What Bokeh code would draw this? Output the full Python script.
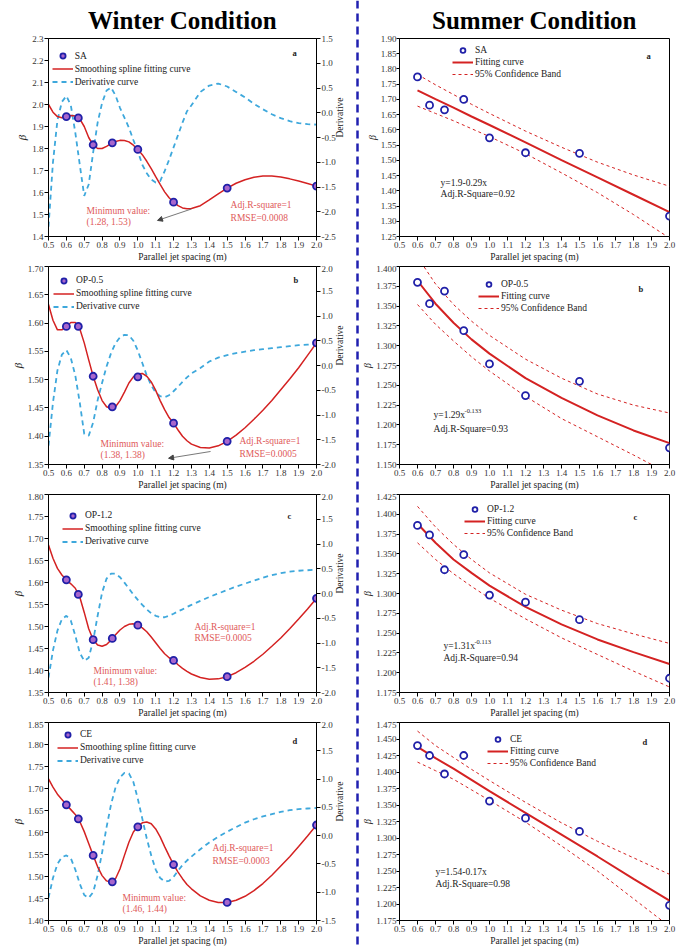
import math
from bokeh.plotting import figure
from bokeh.models import (Range1d, LinearAxis, Legend, LegendItem, Label, Arrow,
                          NormalHead, Span, FixedTicker, PrintfTickFormatter)
from bokeh.layouts import row, column
from bokeh.embed import file_html
from bokeh.resources import INLINE

FONT = "Liberation Serif"
FH = 198

# ---------------- data ----------------
x_pts = [0.6, 0.667, 0.75, 0.857, 1.0, 1.2, 1.5, 2.0]
x_curve = [0.5, 0.525, 0.55, 0.575, 0.6, 0.625, 0.65, 0.675, 0.7, 0.725,
           0.75, 0.775, 0.8, 0.825, 0.85, 0.875, 0.9, 0.925, 0.95, 0.975,
           1.0, 1.025, 1.05, 1.075, 1.1, 1.125, 1.15, 1.175, 1.2, 1.225,
           1.25, 1.275, 1.3, 1.35, 1.4, 1.45, 1.5, 1.55, 1.6, 1.65,
           1.7, 1.75, 1.8, 1.85, 1.9, 1.95, 2.0]
x_fit = [0.6, 0.7, 0.8, 0.9, 1.0, 1.2, 1.4, 1.6, 1.8, 2.0]
x_ticks = [0.5, 0.6, 0.7, 0.8, 0.9, 1.0, 1.1, 1.2, 1.3, 1.4, 1.5, 1.6, 1.7, 1.8, 1.9, 2.0]

# Winter condition: measured beta, smoothing spline, derivative
w_pts_sa = [1.945, 1.939, 1.817, 1.826, 1.796, 1.556, 1.620, 1.629]
w_pts_op05 = [1.594, 1.594, 1.506, 1.452, 1.505, 1.423, 1.391, 1.565]
w_pts_op12 = [1.606, 1.573, 1.470, 1.473, 1.503, 1.423, 1.386, 1.564]
w_pts_ce = [1.663, 1.631, 1.548, 1.488, 1.613, 1.527, 1.441, 1.617]

spline_sa = [2.0, 1.965, 1.945, 1.94, 1.945, 1.95, 1.948, 1.935, 1.9, 1.85,
             1.815, 1.80, 1.80, 1.81, 1.822, 1.832, 1.837, 1.836, 1.83, 1.815,
             1.796, 1.772, 1.742, 1.708, 1.672, 1.637, 1.603, 1.576, 1.556, 1.54,
             1.53, 1.526, 1.527, 1.54, 1.566, 1.594, 1.62, 1.642, 1.658, 1.669,
             1.675, 1.675, 1.67, 1.662, 1.652, 1.641, 1.629]
deriv_sa = [-2.3, -1.0, -0.15, 0.22, 0.34, 0.15, -0.4, -1.05, -1.68, -1.45,
            -0.8, -0.2, 0.2, 0.45, 0.51, 0.35, 0.1, -0.1, -0.3, -0.55,
            -0.78, -1.05, -1.22, -1.35, -1.41, -1.38, -1.18, -0.95, -0.7, -0.45,
            -0.2, 0.03, 0.15, 0.42, 0.55, 0.59, 0.53, 0.42, 0.31, 0.18,
            0.07, -0.03, -0.11, -0.17, -0.21, -0.23, -0.24]
spline_op05 = [1.633, 1.605, 1.588, 1.588, 1.594, 1.601, 1.601, 1.59, 1.565, 1.535,
               1.506, 1.482, 1.463, 1.452, 1.449, 1.452, 1.463, 1.478, 1.494, 1.505,
               1.51, 1.511, 1.506, 1.496, 1.481, 1.463, 1.447, 1.433, 1.423, 1.411,
               1.40, 1.392, 1.386, 1.38, 1.379, 1.383, 1.391, 1.402, 1.415, 1.43,
               1.446, 1.463, 1.482, 1.501, 1.521, 1.543, 1.565]
deriv_op05 = [-1.62, -0.75, -0.1, 0.22, 0.31, 0.15, -0.2, -0.75, -1.38, -1.42,
              -1.15, -0.7, -0.35, -0.02, 0.25, 0.45, 0.57, 0.62, 0.61, 0.5,
              0.3, 0.05, -0.2, -0.4, -0.55, -0.62, -0.64, -0.6, -0.52, -0.43,
              -0.33, -0.24, -0.16, -0.05, 0.08, 0.16, 0.21, 0.25, 0.28, 0.31,
              0.33, 0.35, 0.37, 0.39, 0.41, 0.42, 0.43]
spline_op12 = [1.685, 1.655, 1.632, 1.617, 1.606, 1.597, 1.587, 1.567, 1.532, 1.495,
               1.47, 1.458, 1.455, 1.459, 1.469, 1.481, 1.492, 1.5, 1.505, 1.506,
               1.503, 1.497, 1.488, 1.476, 1.463, 1.45, 1.438, 1.429, 1.423, 1.413,
               1.405, 1.398, 1.392, 1.384, 1.38, 1.381, 1.386, 1.395, 1.407, 1.421,
               1.437, 1.455, 1.474, 1.495, 1.517, 1.54, 1.564]
deriv_op12 = [-1.7, -1.15, -0.75, -0.52, -0.45, -0.55, -0.85, -1.2, -1.36, -1.3,
              -0.95, -0.45, 0.02, 0.3, 0.4, 0.4, 0.33, 0.22, 0.1, -0.02,
              -0.13, -0.23, -0.32, -0.4, -0.45, -0.48, -0.48, -0.45, -0.41, -0.36,
              -0.32, -0.27, -0.23, -0.15, -0.07, 0.0, 0.07, 0.14, 0.2, 0.26,
              0.32, 0.37, 0.41, 0.44, 0.46, 0.47, 0.48]
spline_ce = [1.722, 1.703, 1.687, 1.675, 1.663, 1.652, 1.641, 1.625, 1.602, 1.575,
             1.548, 1.522, 1.502, 1.49, 1.487, 1.495, 1.517, 1.548, 1.578, 1.601,
             1.614, 1.622, 1.624, 1.62, 1.608, 1.59, 1.568, 1.547, 1.527, 1.51,
             1.495, 1.482, 1.472, 1.456, 1.446, 1.441, 1.441, 1.446, 1.455, 1.468,
             1.484, 1.503, 1.524, 1.545, 1.568, 1.592, 1.617]
deriv_ce = [-1.1, -0.75, -0.5, -0.38, -0.35, -0.4, -0.6, -0.85, -1.05, -1.1,
            -1.0, -0.7, -0.3, 0.15, 0.55, 0.85, 1.03, 1.11, 1.1, 0.95,
            0.65, 0.3, -0.05, -0.35, -0.6, -0.75, -0.81, -0.8, -0.73, -0.62,
            -0.52, -0.44, -0.37, -0.24, -0.12, -0.02, 0.07, 0.15, 0.23, 0.29,
            0.34, 0.38, 0.42, 0.45, 0.47, 0.48, 0.49]

# Summer condition: measured beta, fitted curve, 95% confidence band
s_pts_sa = [1.774, 1.681, 1.666, 1.700, 1.574, 1.525, 1.523, 1.317]
s_pts_op05 = [1.380, 1.353, 1.369, 1.319, 1.277, 1.237, 1.255, 1.171]
s_pts_op12 = [1.386, 1.374, 1.330, 1.349, 1.298, 1.289, 1.267, 1.193]
s_pts_ce = [1.440, 1.425, 1.397, 1.425, 1.356, 1.330, 1.310, 1.198]

fit_sa = [1.730, 1.701, 1.673, 1.644, 1.616, 1.559, 1.501, 1.444, 1.387, 1.330]
up_sa = [1.782, 1.748, 1.716, 1.684, 1.654, 1.596, 1.543, 1.494, 1.452, 1.415]
lo_sa = [1.678, 1.654, 1.630, 1.604, 1.578, 1.522, 1.459, 1.394, 1.322, 1.245]
fit_op05 = [1.382, 1.353, 1.329, 1.308, 1.290, 1.259, 1.234, 1.212, 1.193, 1.177]
up_op05 = [1.412, 1.378, 1.352, 1.331, 1.313, 1.283, 1.259, 1.239, 1.225, 1.215]
lo_op05 = [1.352, 1.327, 1.306, 1.286, 1.268, 1.236, 1.208, 1.185, 1.162, 1.138]
fit_op12 = [1.388, 1.364, 1.343, 1.326, 1.310, 1.283, 1.261, 1.242, 1.226, 1.211]
up_op12 = [1.410, 1.384, 1.362, 1.343, 1.326, 1.299, 1.279, 1.262, 1.249, 1.237]
lo_op12 = [1.364, 1.343, 1.325, 1.309, 1.294, 1.268, 1.244, 1.223, 1.202, 1.182]
fit_ce = [1.438, 1.421, 1.405, 1.388, 1.371, 1.338, 1.305, 1.272, 1.238, 1.205]
up_ce = [1.462, 1.440, 1.422, 1.404, 1.387, 1.354, 1.323, 1.295, 1.270, 1.245]
lo_ce = [1.415, 1.402, 1.389, 1.373, 1.357, 1.324, 1.288, 1.250, 1.208, 1.166]

# tick values
wa_yticks = [1.4, 1.5, 1.6, 1.7, 1.8, 1.9, 2.0, 2.1, 2.2, 2.3]
wb_yticks = [1.35, 1.40, 1.45, 1.50, 1.55, 1.60, 1.65, 1.70]
wc_yticks = [1.35, 1.40, 1.45, 1.50, 1.55, 1.60, 1.65, 1.70, 1.75, 1.80]
wd_yticks = [1.40, 1.45, 1.50, 1.55, 1.60, 1.65, 1.70, 1.75, 1.80, 1.85]
wa_dticks = [-2.5, -2.0, -1.5, -1.0, -0.5, 0.0, 0.5, 1.0, 1.5]
wb_dticks = [-2.0, -1.5, -1.0, -0.5, 0.0, 0.5, 1.0, 1.5, 2.0]
wc_dticks = [-2.0, -1.5, -1.0, -0.5, 0.0, 0.5, 1.0, 1.5, 2.0]
wd_dticks = [-1.5, -1.0, -0.5, 0.0, 0.5, 1.0, 1.5, 2.0]
sa_yticks = [1.25, 1.30, 1.35, 1.40, 1.45, 1.50, 1.55, 1.60, 1.65, 1.70, 1.75, 1.80, 1.85, 1.90]
sb_yticks = [1.150, 1.175, 1.200, 1.225, 1.250, 1.275, 1.300, 1.325, 1.350, 1.375, 1.400]
sc_yticks = [1.175, 1.200, 1.225, 1.250, 1.275, 1.300, 1.325, 1.350, 1.375, 1.400, 1.425]
sd_yticks = [1.175, 1.200, 1.225, 1.250, 1.275, 1.300, 1.325, 1.350, 1.375, 1.400, 1.425, 1.450, 1.475]

# ---------------- style ----------------
RED = "#d42222"
ANN_RED = "#e05a5a"
DBLUE = "#3ea8dc"
PT_LINE = "#2020a8"
PT_FILL = "#a866cc"
DIV_BLUE = "#2020b0"


def style_axis(ax, ticks, fmt, label="", italic=False, lsize="9.5px", tick_out=4,
               lab_stand=1, ax_stand=1):
    ax.ticker = FixedTicker(ticks=ticks, minor_ticks=[])
    ax.formatter = PrintfTickFormatter(format=fmt)
    ax.axis_label = label
    ax.major_label_text_font = FONT
    ax.major_label_text_font_size = "9px"
    ax.major_label_text_color = "#333333"
    ax.axis_label_text_font = FONT
    ax.axis_label_text_font_size = lsize
    ax.axis_label_text_font_style = "italic" if italic else "normal"
    ax.axis_label_text_color = "#222222"
    ax.major_tick_in = 0
    ax.major_tick_out = tick_out
    ax.minor_tick_in = 0
    ax.minor_tick_out = 0
    ax.major_label_standoff = lab_stand
    ax.axis_label_standoff = ax_stand
    ax.axis_line_color = "black"
    ax.major_tick_line_color = "black"


def base_fig(width, height, top, left, right, xr, yr):
    p = figure(width=width, height=height, x_range=Range1d(*xr), y_range=Range1d(*yr),
               toolbar_location=None, output_backend="svg",
               min_border_top=top, min_border_bottom=29,
               min_border_left=left, min_border_right=right)
    p.xgrid.visible = False
    p.ygrid.visible = False
    p.outline_line_color = "black"
    p.outline_line_alpha = 1.0
    p.outline_line_width = 1
    p.background_fill_color = "white"
    p.border_fill_color = "white"
    return p


def add_legend(p, items, dx, dy, pitch, gw, fs="9.5px"):
    n = len(items)
    lh = n * pitch
    top = dy - pitch / 2.0
    leg = Legend(items=items, location=(dx, FH - top - lh), orientation="vertical",
                 padding=0, margin=0, spacing=0, glyph_width=gw, glyph_height=pitch,
                 label_height=pitch, label_standoff=2, label_text_font=FONT,
                 label_text_font_size=fs, label_text_color="#222222",
                 border_line_alpha=0, background_fill_alpha=0)
    p.add_layout(leg)


def txt(p, x, y, text, color="#222222", size="9.5px", style="normal", xo=0, yo=0):
    p.add_layout(Label(x=x, y=y, text=text, text_font=FONT, text_font_size=size,
                       text_color=color, text_font_style=style, text_baseline="middle",
                       text_align="left", x_offset=xo, y_offset=yo))


def set_title(p, text, offset=0):
    p.title.text = text
    p.title.align = "center"
    p.title.text_font = FONT
    p.title.text_font_size = "25px"
    p.title.text_font_style = "bold"
    p.title.text_color = "black"
    p.title.standoff = 9
    p.title.offset = offset


def winter_panel(name, pts, spline, deriv, yr, yticks, yfmt, dr, dticks, height, top,
                 leg, letter, mintxt, fittxt, minval, arrow=None, title=None):
    p = base_fig(355, height, top, 48, 39, (0.5, 2.0), yr)
    p.extra_y_ranges = {"der": Range1d(*dr)}
    rax = LinearAxis(y_range_name="der")
    p.add_layout(rax, "right")
    style_axis(p.xaxis[0], x_ticks, "%.1f", "Parallel jet spacing (m)")
    style_axis(p.yaxis[0], yticks, yfmt, "\u03b2", italic=True, lsize="11px")
    style_axis(rax, dticks, "%.1f", "Derivative")
    rax.axis_label_orientation = math.pi / 2
    rd = p.line(x_curve, deriv, y_range_name="der", line_color=DBLUE, line_width=1.8,
                line_dash="5 4")
    rs = p.line(x_curve, spline, line_color=RED, line_width=1.5)
    rp = p.scatter(x_pts, pts, marker="circle", size=7, line_color=PT_LINE, line_width=1.8,
                   fill_color=PT_FILL)
    add_legend(p, [LegendItem(label=name, renderers=[rp]),
                   LegendItem(label="Smoothing spline fitting curve", renderers=[rs]),
                   LegendItem(label="Derivative curve", renderers=[rd])],
               leg[0], leg[1], 13, 21)
    txt(p, letter[0], letter[1], letter[2], size="8.5px", style="bold")
    txt(p, mintxt[0], mintxt[1], "Minimum value:", color=ANN_RED)
    txt(p, mintxt[0], mintxt[2], minval, color=ANN_RED)
    txt(p, fittxt[0], fittxt[1], "Adj.R-square=1", color=ANN_RED)
    txt(p, fittxt[0], fittxt[2], fittxt[3], color=ANN_RED)
    if arrow is not None:
        p.add_layout(Arrow(end=NormalHead(size=5, fill_color="#444444", line_color="#444444"),
                           x_start=arrow[0], y_start=arrow[1], x_end=arrow[2], y_end=arrow[3],
                           line_color="#555555", line_width=0.8))
    if title:
        set_title(p, title)
    return p


def summer_panel(name, pts, fit, up, lo, yr, yticks, yfmt, height, top, leg, letter,
                 eq, eq_main, eq_sup, adj, title=None):
    p = base_fig(326, height, top, 40, 16, (0.5, 2.0), yr)
    style_axis(p.xaxis[0], x_ticks, "%.1f", "Parallel jet spacing (m)")
    style_axis(p.yaxis[0], yticks, yfmt, "\u03b2", italic=True, lsize="10px", tick_out=3,
               lab_stand=0, ax_stand=0)
    rb = p.line(x_fit, up, line_color=RED, line_width=1, line_dash="3 3")
    p.line(x_fit, lo, line_color=RED, line_width=1, line_dash="3 3")
    rf = p.line(x_fit, fit, line_color=RED, line_width=2)
    rp = p.scatter(x_pts, pts, marker="circle", size=7, line_color=PT_LINE, line_width=1.8,
                   fill_color="white")
    add_legend(p, [LegendItem(label=name, renderers=[rp]),
                   LegendItem(label="Fitting curve", renderers=[rf]),
                   LegendItem(label="95% Confidence Band", renderers=[rb])],
               leg[0], leg[1], 12, 21)
    txt(p, letter[0], letter[1], letter[2], size="8.5px", style="bold")
    txt(p, eq[0], eq[1], eq_main)
    if eq_sup:
        txt(p, eq[0], eq[1], eq_sup, size="6.5px", xo=31, yo=4)
    txt(p, eq[0], eq[2], adj)
    if title:
        set_title(p, title, offset=9)
    return p


wa = winter_panel("SA", w_pts_sa, spline_sa, deriv_sa, (1.4, 2.3), wa_yticks, "%.1f",
                  (-2.5, 1.5), wa_dticks, 265, 38, (3.7, 17.7), (1.866, 2.232, "a"),
                  (0.713, 1.518, 1.464), (1.519, 1.541, 1.486, "RMSE=0.0008"), "(1.28, 1.53)",
                  arrow=(1.30, 1.525, 1.11, 1.473), title="Winter Condition")
wb = winter_panel("OP-0.5", w_pts_op05, spline_op05, deriv_op05, (1.35, 1.70), wb_yticks, "%.2f",
                  (-2.0, 2.0), wb_dticks, 228, 1, (5, 14), (1.871, 1.677, "b"),
                  (0.791, 1.387, 1.366), (1.569, 1.391, 1.369, "RMSE=0.0005"), "(1.38, 1.38)",
                  arrow=(1.407, 1.373, 1.172, 1.361))
wc = winter_panel("OP-1.2", w_pts_op12, spline_op12, deriv_op12, (1.35, 1.80), wc_yticks, "%.2f",
                  (-2.0, 2.0), wc_dticks, 228, 1, (14, 21), (1.838, 1.752, "c"),
                  (0.752, 1.398, 1.373), (1.317, 1.500, 1.473, "RMSE=0.0005"), "(1.41, 1.38)")
wd = winter_panel("CE", w_pts_ce, spline_ce, deriv_ce, (1.40, 1.85), wd_yticks, "%.2f",
                  (-1.5, 2.0), wd_dticks, 228, 1, (9, 12), (1.866, 1.807, "d"),
                  (0.914, 1.452, 1.427), (1.418, 1.564, 1.536, "RMSE=0.0003"), "(1.46, 1.44)")

sa = summer_panel("SA", s_pts_sa, fit_sa, up_sa, lo_sa, (1.25, 1.90), sa_yticks, "%.2f",
                  265, 38, (53, 12), (1.872, 1.841, "a"), (0.728, 1.427, 1.388),
                  "y=1.9-0.29x", None, "Adj.R-Square=0.92", title="Summer Condition")
sb = summer_panel("OP-0.5", s_pts_op05, fit_op05, up_op05, lo_op05, (1.15, 1.40), sb_yticks, "%.3f",
                  228, 1, (79, 18), (1.828, 1.372, "b"), (0.689, 1.212, 1.195),
                  "y=1.29x", "-0.133", "Adj.R-Square=0.93")
sc = summer_panel("OP-1.2", s_pts_op12, fit_op12, up_op12, lo_op12, (1.175, 1.425), sc_yticks, "%.3f",
                  228, 1, (65, 15), (1.80, 1.396, "c"), (0.744, 1.234, 1.219),
                  "y=1.31x", "-0.113", "Adj.R-Square=0.94")
sd = summer_panel("CE", s_pts_ce, fit_ce, up_ce, lo_ce, (1.175, 1.475), sd_yticks, "%.3f",
                  228, 1, (88, 17), (1.85, 1.446, "d"), (0.70, 1.248, 1.230),
                  "y=1.54-0.17x", None, "Adj.R-Square=0.98")

div = figure(width=4, height=949, x_range=Range1d(0, 1), y_range=Range1d(0, 1),
             toolbar_location=None, output_backend="svg", min_border=0)
div.axis.visible = False
div.xgrid.visible = False
div.ygrid.visible = False
div.outline_line_color = None
div.background_fill_color = "white"
div.border_fill_color = "white"
div.add_layout(Span(location=0.5, dimension="height", line_color=DIV_BLUE, line_width=2.5,
                    line_dash="8 5"))

layout = row(column(wa, wb, wc, wd, spacing=0), div, column(sa, sb, sc, sd, spacing=0), spacing=0)

open("out.html", "w").write(file_html(layout, INLINE))
